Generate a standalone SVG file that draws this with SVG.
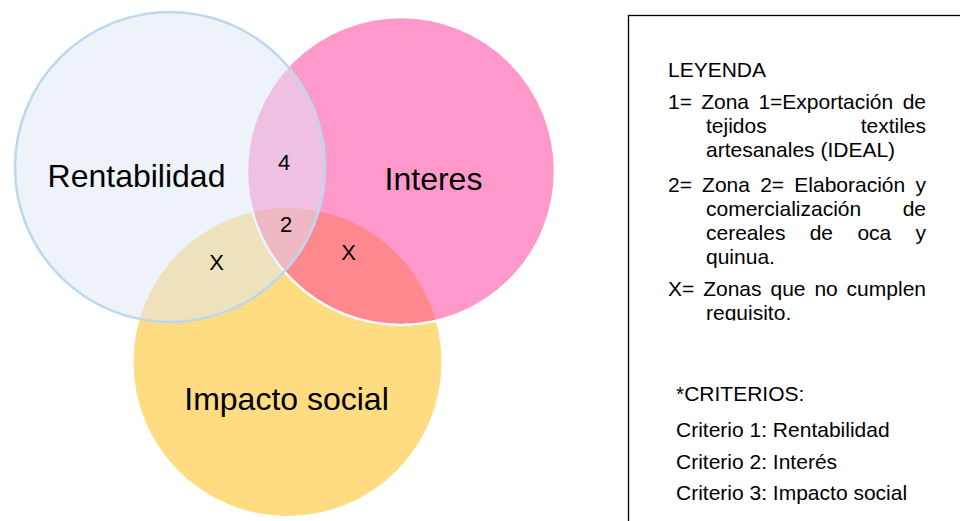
<svg xmlns="http://www.w3.org/2000/svg" width="960" height="521" viewBox="0 0 960 521">
  <defs>
    <style>
      .lbl { font-family: "Liberation Sans", Arial, sans-serif; fill: #000; }
      .big { font-size: 32px; text-anchor: middle; }
      .zone { font-size: 22px; text-anchor: middle; }
      .leg { font-size: 21px; }
      .end { text-anchor: end; }
    </style>
    <clipPath id="legendClip">
      <rect x="628" y="0" width="332" height="320.5"/>
    </clipPath>
  </defs>

  <rect width="960" height="521" fill="#fff"/>

  <!-- Criterion 3: social impact (bottom) -->
  <g id="impacto-social">
    <circle cx="287.5" cy="362" r="154" fill="#FFDC82"/>
    <text class="lbl big" x="286.5" y="409.5">Impacto social</text>
  </g>

  <!-- Criterion 2: interest (right) -->
  <g id="interes">
    <circle cx="401" cy="171" r="154" fill="#FF3399" fill-opacity="0.5" stroke="#fff" stroke-width="2.5"/>
    <text class="lbl big" x="433.5" y="189.5">Interes</text>
  </g>

  <!-- Criterion 1: profitability (left) -->
  <g id="rentabilidad">
    <circle cx="170" cy="167" r="155" fill="#DDE8F5" fill-opacity="0.5" stroke="#BDD7EE" stroke-width="2.5"/>
    <text class="lbl big" x="136.5" y="187">Rentabilidad</text>
  </g>

  <!-- Zone markers in the overlaps -->
  <g id="zonas">
    <text class="lbl zone" x="284" y="169.5">4</text>
    <text class="lbl zone" x="286" y="231.5">2</text>
    <text class="lbl zone" x="216.5" y="269.5">X</text>
    <text class="lbl zone" x="348.5" y="259.5">X</text>
  </g>

  <!-- Legend panel -->
  <g id="leyenda">
    <rect x="628.5" y="15.5" width="340" height="520" fill="#fff" stroke="#000" stroke-width="1.3"/>
    <text class="lbl leg" x="668" y="77">LEYENDA</text>

    <text class="lbl leg" y="109"><tspan x="668">1=</tspan><tspan x="701.2">Zona</tspan><tspan x="758.4">1=Exportación</tspan></text>
    <text class="lbl leg end" x="926" y="109">de</text>
    <text class="lbl leg" x="706" y="133">tejidos</text>
    <text class="lbl leg end" x="926" y="133">textiles</text>
    <text class="lbl leg" x="706" y="157">artesanales (IDEAL)</text>

    <text class="lbl leg" y="192"><tspan x="668">2=</tspan><tspan x="702.1">Zona</tspan><tspan x="760.2">2=</tspan><tspan x="794.3">Elaboración</tspan></text>
    <text class="lbl leg end" x="926" y="192">y</text>
    <text class="lbl leg" x="706" y="216">comercialización</text>
    <text class="lbl leg end" x="926" y="216">de</text>
    <text class="lbl leg" y="240"><tspan x="706">cereales</tspan><tspan x="809.7">de</tspan><tspan x="857.4">oca</tspan></text>
    <text class="lbl leg end" x="926" y="240">y</text>
    <text class="lbl leg" x="706" y="264">quinua.</text>

    <text class="lbl leg" y="296"><tspan x="668">X=</tspan><tspan x="703.2">Zonas</tspan><tspan x="770.5">que</tspan><tspan x="814.4">no</tspan></text>
    <text class="lbl leg end" x="926" y="296">cumplen</text>
    <text class="lbl leg" x="706" y="320" clip-path="url(#legendClip)">requisito.</text>

    <text class="lbl leg" x="676" y="401">*CRITERIOS:</text>
    <text class="lbl leg" x="676" y="437">Criterio 1: Rentabilidad</text>
    <text class="lbl leg" x="676" y="469">Criterio 2: Interés</text>
    <text class="lbl leg" x="676" y="500">Criterio 3: Impacto social</text>
  </g>
</svg>
